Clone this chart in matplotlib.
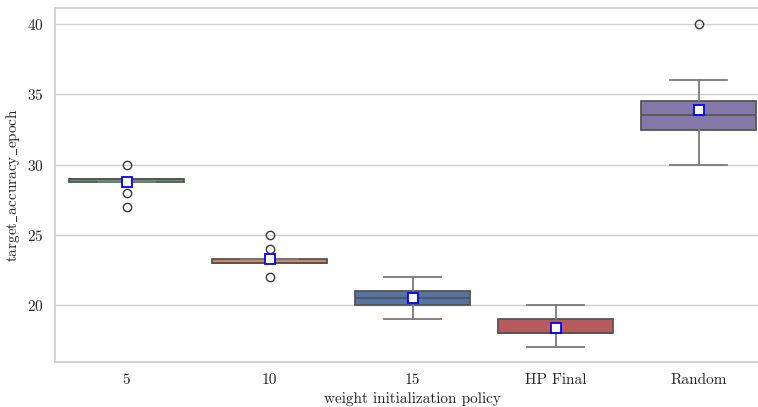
import matplotlib
matplotlib.use("Agg")
import matplotlib.pyplot as plt
import numpy as np

categories = ["5", "10", "15", "HP Final", "Random"]
vals_5 = [29, 29, 29, 29, 29, 30, 28, 27]
vals_10 = [22, 23, 23, 23, 23, 23, 24, 25]
vals_15 = [19, 20, 20, 20, 21, 21, 21, 22]
vals_hp = [17, 18, 18, 18, 18, 19, 19, 20]
vals_rand = [30, 31, 33, 33, 34, 34, 36, 40]
data = [vals_5, vals_10, vals_15, vals_hp, vals_rand]
colors = ["#5a9e6c", "#d1885a", "#5474a6", "#b75b5f", "#8478a9"]

plt.rcParams['font.family'] = ['cmr10', 'DejaVu Serif']
plt.rcParams['mathtext.fontset'] = 'cm'
plt.rcParams['axes.formatter.use_mathtext'] = True

W, H = 758, 407
fig = plt.figure(figsize=(W / 100, H / 100), dpi=100)
left, right, top, bottom = 55, 770, 8, 362
ax = fig.add_axes([left / W, 1 - bottom / H, (right - left) / W, (bottom - top) / H])

bp = ax.boxplot(data, positions=np.arange(len(categories)), widths=0.8,
                patch_artist=True, showmeans=True,
                meanprops=dict(marker='s', markerfacecolor='white', markeredgecolor='blue',
                               markersize=6.5, markeredgewidth=1.3),
                medianprops=dict(color='#555555', linewidth=1.3),
                whiskerprops=dict(color='#7a7a7a', linewidth=1.3),
                capprops=dict(color='#7a7a7a', linewidth=1.3),
                boxprops=dict(edgecolor='#555555', linewidth=1.3),
                flierprops=dict(marker='o', markerfacecolor='none', markeredgecolor='#3a3a3a',
                                markersize=6, markeredgewidth=1.0))
for patch, c in zip(bp['boxes'], colors):
    patch.set_facecolor(c)

ax.set_xticks(np.arange(len(categories)))
ax.set_xticklabels(categories)
ax.set_xlim(-0.5, 4.5)
ax.set_ylim(15.95, 41.15)
ax.set_yticks([20, 25, 30, 35, 40])
ax.yaxis.grid(True, color='#d0d0d0', linewidth=1.0)
ax.set_axisbelow(True)
for s in ax.spines.values():
    s.set_color('#cccccc')
    s.set_linewidth(1.2)
ax.spines['right'].set_visible(False)
ax.tick_params(axis='both', length=0, labelsize=11, colors='#262626', pad=8)
ax.set_xlabel("weight initialization policy", fontsize=11, color='#262626', labelpad=4)
ax.set_ylabel(r"target$\_$accuracy$\_$epoch", fontsize=11, color='#262626', labelpad=4)

fig.savefig("out.png", dpi=100)
